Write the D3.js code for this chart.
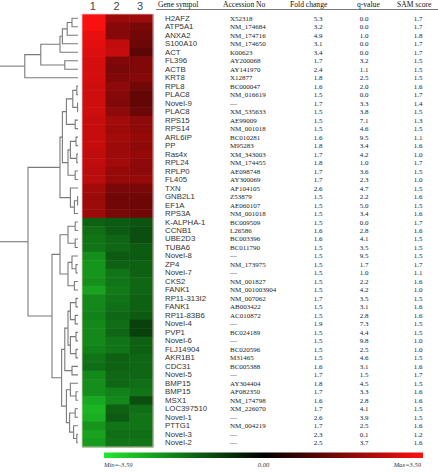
<!DOCTYPE html>
<html>
<head>
<meta charset="utf-8">
<script src="https://cdn.jsdelivr.net/npm/d3@7"></script>
<style>
  body { margin: 0; background: #fff; }
  svg { display: block; }
  .gene { font-family: "Liberation Sans", Arial, sans-serif; font-size: 7.8px; fill: #333; }
  .cell-text { font-family: "Liberation Serif", "Times New Roman", serif; font-size: 7px; fill: #222; }
  .head { font-family: "Liberation Serif", "Times New Roman", serif; font-size: 7.6px; fill: #111; }
  .colnum { font-family: "Liberation Sans", Arial, sans-serif; font-size: 11px; fill: #444; }
  .bar-label { font-family: "Liberation Serif", serif; font-style: italic; font-size: 6.5px; fill: #333; }
  .link { fill: none; stroke: #7a7a7a; stroke-width: 1.1; }
</style>
</head>
<body>
<div id="chart"></div>
<script>
var genes = ["H2AFZ", "ATP5A1", "ANXA2", "S100A10", "ACT", "FL396", "ACTB", "KRT8", "RPL8", "PLAC8",
  "Novel-9", "PLAC8", "RPS15", "RPS14", "ARL6IP", "PP", "Ras4x", "RPL24", "RPLP0", "FL405",
  "TXN", "GNB2L1", "EF1A", "RPS3A", "K-ALPHA-1", "CCNB1", "UBE2D3", "TUBA6", "Novel-8", "ZP4",
  "Novel-7", "CKS2", "FANK1", "RP11-313I2", "FANK1", "RP11-83B6", "Novel-4", "PVP1", "Novel-6", "FLJ14904",
  "AKR1B1", "CDC31", "Novel-5", "BMP15", "BMP15", "MSX1", "LOC397510", "Novel-1", "PTTG1", "Novel-3", "Novel-2"];

var accession = ["X52318", "NM_174684", "NM_174716", "NM_174650", "K00623", "AY200068", "AY141970", "X12877", "BC000047", "NM_016619",
  "\u2014", "XM_535633", "AE99009", "NM_001018", "BC010281", "M95283", "XM_343003", "NM_174455", "AE098748", "AY300069",
  "AF104105", "Z53879", "AE060107", "NM_001018", "BC009509", "L26586", "BC003396", "BC011790", "\u2014", "NM_173975",
  "\u2014", "NM_001827", "NM_001003904", "NM_007062", "AB003422", "AC010872", "\u2014", "BC024189", "\u2014", "BC020596",
  "M31465", "BC005388", "\u2014", "AY304404", "AF082350", "NM_174798", "XM_226070", "\u2014", "NM_004219", "\u2014", "\u2014"];

var foldChange = [5.3, 3.2, 4.9, 3.1, 3.4, 1.7, 2.4, 1.8, 1.6, 1.5,
  1.7, 1.5, 1.5, 1.5, 1.6, 1.8, 1.7, 1.8, 1.7, 1.7,
  2.6, 1.5, 1.5, 1.5, 1.5, 1.6, 1.6, 1.5, 1.5, 1.5,
  1.5, 1.5, 1.5, 1.7, 1.5, 1.5, 1.9, 1.5, 1.5, 1.5,
  1.5, 1.6, 1.7, 1.8, 1.7, 1.6, 1.7, 2.6, 1.7, 2.3, 2.5];

var qValue = [0.0, 0.0, 1.0, 0.0, 0.0, 3.2, 1.1, 2.5, 2.0, 0.0,
  3.3, 3.8, 7.1, 4.6, 9.5, 3.4, 4.2, 1.0, 3.6, 2.3,
  4.7, 2.2, 5.0, 3.4, 0.0, 2.8, 4.1, 3.5, 9.5, 1.7,
  1.0, 2.2, 4.2, 3.5, 3.1, 2.8, 7.3, 4.4, 9.8, 2.5,
  4.6, 3.1, 1.5, 4.5, 3.3, 2.8, 4.1, 3.9, 2.5, 0.1, 3.7];

var samScore = [1.7, 1.7, 1.8, 1.7, 1.7, 1.5, 1.5, 1.5, 1.6, 1.7,
  1.4, 1.5, 1.3, 1.5, 1.1, 1.6, 1.0, 1.7, 1.5, 1.0,
  1.5, 1.6, 1.5, 1.6, 1.7, 1.6, 1.5, 1.5, 1.5, 1.7,
  1.1, 1.6, 1.0, 1.5, 1.6, 1.6, 1.5, 1.5, 1.0, 1.0,
  1.5, 1.6, 1.7, 1.5, 1.6, 1.6, 1.5, 1.5, 1.6, 1.2, 1.6];

// log ratio per array (columns 1, 2, 3)
var array1 = [3.5, 3.5, 3.3, 3.2, 3.1, 3.0, 3.0, 3.0, 2.9, 2.9,
  2.9, 2.9, 2.8, 2.8, 2.8, 2.8, 2.7, 2.7, 2.6, 2.6,
  2.3, 2.2, 2.2, 2.2, -1.5, -1.7, -1.8, -1.8, -2.2, -2.3,
  -2.3, -2.2, -2.5, -2.1, -2.1, -2.0, -2.1, -2.1, -2.1, -2.0,
  -1.8, -1.7, -2.1, -2.2, -2.2, -2.6, -2.8, -2.7, -2.3, -2.5, -2.4];
var array2 = [2.2, 1.9, 1.9, 2.7, 2.8, 1.8, 1.7, 1.8, 2.0, 1.9,
  1.8, 2.0, 2.3, 2.2, 2.3, 2.2, 2.2, 2.3, 2.1, 2.1,
  1.7, 1.6, 1.6, 1.7, -1.4, -1.4, -1.6, -1.6, -1.4, -1.5,
  -1.8, -1.8, -1.9, -1.8, -1.7, -1.6, -1.7, -1.6, -1.8, -1.8,
  -1.5, -1.5, -1.6, -1.6, -2.0, -2.1, -1.5, -1.4, -1.8, -1.7, -1.8];
var array3 = [2.2, 1.7, 1.6, 1.5, 1.3, 1.8, 1.8, 1.9, 1.6, 1.4,
  1.4, 1.5, 2.0, 2.0, 2.1, 2.0, 2.1, 2.0, 2.0, 2.1,
  1.7, 1.6, 1.5, 1.6, -1.3, -1.2, -1.2, -1.4, -1.4, -1.5,
  -1.5, -1.6, -1.6, -1.5, -1.5, -1.4, -1.0, -1.0, -1.5, -1.5,
  -1.6, -1.6, -1.6, -1.7, -1.8, -1.2, -1.7, -1.8, -1.8, -1.7, -1.8];

var colLabels = ["1", "2", "3"];
var headers = ["Gene sympol", "Accession No", "Fold change", "q-value", "SAM score"];
var colorMin = -3.59, colorMax = 3.59;

// cluster trees: {h: merge distance, c: children}, leaves are row numbers
var topTree = {h: 0.69, c: [
  {h: 0.49, c: [
    {h: 0.25, c: [
      {h: 0.22, c: [{h: 0.16, c: [{h: 0.1, c: [0, 1]}, 2]}, 3]}, 4]},
    {h: 0.19, c: [5, 6]}]},
  7]};

var mainTree = {h: 0.65, c: [
  {h: 0.25, c: [
    {h: 0.22, c: [
      {h: 0.17, c: [{h: 0.09, c: [{h: 0.04, c: [8, 9]}, {h: 0.03, c: [10, 11]}]}, {h: 0.06, c: [12, 13]}]},
      {h: 0.15, c: [{h: 0.12, c: [{h: 0.05, c: [14, 15]}, {h: 0.04, c: [16, 17]}]}, {h: 0.06, c: [18, 19]}]}]},
    {h: 0.12, c: [20, {h: 0.07, c: [{h: 0.03, c: [21, 22]}, 23]}]}]},
  {h: 0.35, c: [
    {h: 0.25, c: [
      {h: 0.15, c: [{h: 0.06, c: [24, 25]}, {h: 0.06, c: [26, 27]}]},
      {h: 0.15, c: [{h: 0.1, c: [28, {h: 0.05, c: [29, 30]}]}, {h: 0.07, c: [31, 32]}]}]},
    {h: 0.23, c: [
      {h: 0.19, c: [
        {h: 0.15, c: [
          {h: 0.12, c: [{h: 0.05, c: [33, 34]}, {h: 0.06, c: [35, 36]}]},
          {h: 0.12, c: [{h: 0.05, c: [37, 38]}, {h: 0.05, c: [39, 40]}]}]},
        {h: 0.1, c: [41, 42]}]},
      {h: 0.17, c: [
        {h: 0.12, c: [43, {h: 0.05, c: [44, 45]}]},
        {h: 0.13, c: [{h: 0.06, c: [46, 47]}, {h: 0.08, c: [48, {h: 0.04, c: [49, 50]}]}]}]}]}]}]};

var width = 438, height = 472;

var svg = d3.select("#chart").append("svg")
  .attr("width", width)
  .attr("height", height);

var y = d3.scaleBand()
  .domain(d3.range(genes.length))
  .range([14, 447]);

var x = d3.scaleBand()
  .domain(d3.range(3))
  .range([82, 153]);

var dist = d3.scaleLinear()
  .domain([0, 1])
  .range([80, 0]);

var color = d3.scaleLinear()
  .domain([colorMin, 0, colorMax])
  .range(["#22e82e", "#000000", "#ff1010"]);

// heatmap
var arrays = [array1, array2, array3];
var cells = [];
arrays.forEach(function (a, j) {
  a.forEach(function (v, i) { cells.push({row: i, col: j, v: v}); });
});

svg.append("g").selectAll("rect")
  .data(cells)
  .enter().append("rect")
  .attr("x", d => x(d.col))
  .attr("y", d => y(d.row))
  .attr("width", x.bandwidth() + 0.5)
  .attr("height", y.bandwidth() + 0.5)
  .attr("fill", d => color(d.v));

svg.append("rect")
  .attr("x", x.range()[0])
  .attr("y", y.range()[0])
  .attr("width", x.range()[1] - x.range()[0])
  .attr("height", y.range()[1] - y.range()[0])
  .attr("fill", "none")
  .attr("stroke", "#f0c8c8")
  .attr("stroke-width", 0.8);

svg.append("g").selectAll("text")
  .data(colLabels)
  .enter().append("text")
  .attr("class", "colnum")
  .attr("x", (d, i) => x(i) + x.bandwidth() / 2 - 1)
  .attr("y", 10)
  .attr("text-anchor", "middle")
  .text(d => d);

// dendrogram
function toHierarchy(t) {
  return d3.hierarchy(t, d => (typeof d === "number") ? null : d.c);
}

function drawTree(t) {
  var root = toHierarchy(t);
  root.eachAfter(function (n) {
    if (!n.children) {
      n.py = y(n.data) + y.bandwidth() / 2;
      n.px = dist(0) - 2;
    } else {
      n.py = d3.mean(n.children, c => c.py);
      n.px = dist(n.data.h);
    }
  });
  var g = svg.append("g");
  g.selectAll("path")
    .data(root.links())
    .enter().append("path")
    .attr("class", "link")
    .attr("d", l => "M" + l.source.px + "," + l.source.py + "V" + l.target.py + "H" + l.target.px);
  g.append("path")
    .attr("class", "link")
    .attr("d", "M" + root.px + "," + root.py + "H" + dist(1));
}

drawTree(topTree);
drawTree(mainTree);

// table
var headX = [158, 223, 290, 357, 397];
svg.append("g").selectAll("text")
  .data(headers)
  .enter().append("text")
  .attr("class", "head")
  .attr("x", (d, i) => headX[i])
  .attr("y", 7)
  .text(d => d);

svg.append("line")
  .attr("x1", 156).attr("x2", width)
  .attr("y1", 9.5).attr("y2", 9.5)
  .attr("stroke", "#555")
  .attr("stroke-width", 0.8);

var rowMid = i => y(i) + y.bandwidth() / 2 + 2.5;

var fmt = d3.format(".1f");
var columns = [
  {vals: genes, x: 165, cls: "gene", anchor: "start", f: d => d},
  {vals: accession, x: 230, cls: "cell-text", anchor: "start", f: d => d},
  {vals: foldChange, x: 318, cls: "cell-text", anchor: "middle", f: fmt},
  {vals: qValue, x: 364, cls: "cell-text", anchor: "middle", f: fmt},
  {vals: samScore, x: 418, cls: "cell-text", anchor: "middle", f: fmt}
];

columns.forEach(function (c) {
  svg.append("g").selectAll("text")
    .data(c.vals)
    .enter().append("text")
    .attr("class", c.cls)
    .attr("x", c.x)
    .attr("y", (d, i) => rowMid(i))
    .attr("text-anchor", c.anchor)
    .text(c.f);
});

// colour bar
var defs = svg.append("defs");
var grad = defs.append("linearGradient").attr("id", "bar");
grad.selectAll("stop")
  .data(color.domain())
  .enter().append("stop")
  .attr("offset", d => ((d - colorMin) / (colorMax - colorMin) * 100) + "%")
  .attr("stop-color", d => color(d));

var bx = d3.scaleLinear().domain([colorMin, colorMax]).range([104, 423]);

svg.append("rect")
  .attr("x", bx(colorMin))
  .attr("y", 452.5)
  .attr("width", bx(colorMax) - bx(colorMin))
  .attr("height", 5.5)
  .attr("fill", "url(#bar)");

svg.append("text").attr("class", "bar-label")
  .attr("x", bx(colorMin)).attr("y", 467)
  .text("Min=" + colorMin.toFixed(2));
svg.append("text").attr("class", "bar-label")
  .attr("x", bx(0)).attr("y", 467).attr("text-anchor", "middle")
  .text("0.00");
svg.append("text").attr("class", "bar-label")
  .attr("x", bx(colorMax) - 2).attr("y", 467).attr("text-anchor", "end")
  .text("Max=" + colorMax.toFixed(2));
</script>
</body>
</html>
